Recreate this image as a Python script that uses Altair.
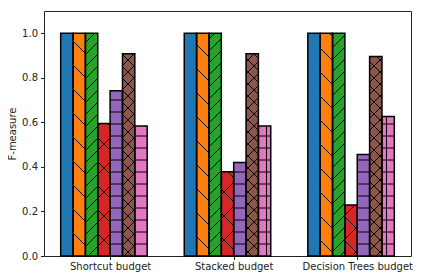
import json
import altair as alt
import pandas as pd
import numpy as np

# ---- data ----
categories = ["Shortcut budget", "Stacked budget", "Decision Trees budget"]
series_1 = [1.0, 1.0, 1.0]
series_2 = [1.0, 1.0, 1.0]
series_3 = [1.0, 1.0, 1.0]
series_4 = [0.595, 0.378, 0.229]
series_5 = [0.742, 0.420, 0.456]
series_6 = [0.908, 0.908, 0.896]
series_7 = [0.584, 0.584, 0.626]
y_ticks = [0.0, 0.2, 0.4, 0.6, 0.8, 1.0]

# ---- styles ----
colors = ["#1f77b4", "#ff7f0e", "#2ca02c", "#d62728", "#9467bd", "#8c564b", "#e377c2"]
hatches = ["", "\\", "//", "x", "-", "xx", "+"]

all_series = [series_1, series_2, series_3, series_4, series_5, series_6, series_7]

W, H = 367, 245
BAR_W = 0.1
X_DOMAIN = [-0.535, 2.435]
Y_DOMAIN = [0.0, 1.1]
sx = W / (X_DOMAIN[1] - X_DOMAIN[0])
sy = H / (Y_DOMAIN[1] - Y_DOMAIN[0])
UNIT = 72.0  # hatch tile size in px (matplotlib, 72 dpi)

rows = []
for s, vals in enumerate(all_series):
    for g, v in enumerate(vals):
        x0 = g - 0.4 + BAR_W * s
        rows.append(dict(series=s, group=g, x0=x0, x1=x0 + BAR_W, y0=0.0, v=v, color=colors[s]))
bars = pd.DataFrame(rows)


def to_data(X, Y):
    return X / sx + X_DOMAIN[0], Y / sy


def hatch_segments(x0, x1, v, pattern):
    X0 = (x0 - X_DOMAIN[0]) * sx
    X1 = (x1 - X_DOMAIN[0]) * sx
    Y1 = v * sy
    segs = []
    n_ne = (pattern.count("/") + pattern.count("x")) * 6
    n_se = (pattern.count("\\") + pattern.count("x")) * 6
    n_h = (pattern.count("-") + pattern.count("+")) * 6
    n_v = (pattern.count("|") + pattern.count("+")) * 6
    if n_ne:
        d = 2 * UNIT / n_ne
        k0 = int(np.floor((0 - X1) / d)) - 1
        k1 = int(np.ceil((Y1 - X0) / d)) + 1
        for k in range(k0, k1 + 1):
            c = k * d + 4.0
            xa = max(X0, -c)
            xb = min(X1, Y1 - c)
            if xb - xa > 0.6:
                segs.append((to_data(xa, xa + c), to_data(xb, xb + c)))
    if n_se:
        d = 2 * UNIT / n_se
        k0 = int(np.floor(X0 / d)) - 1
        k1 = int(np.ceil((Y1 + X1) / d)) + 1
        for k in range(k0, k1 + 1):
            c = k * d + 4.0
            xa = max(X0, c - Y1)
            xb = min(X1, c)
            if xb - xa > 0.6:
                segs.append((to_data(xa, c - xa), to_data(xb, c - xb)))
    if n_h:
        d = UNIT / n_h
        k = 1
        while k * d < Y1 - 1.0:
            segs.append((to_data(X0, k * d), to_data(X1, k * d)))
            k += 1
    if n_v:
        d = UNIT / n_v
        k = 0
        while k * d + 6.5 < X1:
            Xv = k * d + 6.5
            if Xv > X0 + 1.0 and Xv < X1 - 1.0:
                segs.append((to_data(Xv, 0.0), to_data(Xv, Y1)))
            k += 1
    return segs


seg_rows = []
for r in rows:
    for (xa, ya), (xb, yb) in hatch_segments(r["x0"], r["x1"], r["v"], hatches[r["series"]]):
        seg_rows.append(dict(x=xa, y=ya, x2=xb, y2=yb))
segs = pd.DataFrame(seg_rows)

xscale = alt.Scale(domain=X_DOMAIN, nice=False, zero=False)
yscale = alt.Scale(domain=Y_DOMAIN, nice=False, zero=False)

label_expr = json.dumps(categories) + "[datum.value]"

x_axis = alt.Axis(values=[0, 1, 2], labelExpr=label_expr, title=None, grid=False,
                  domain=False, tickSize=3.5, tickColor="#222", labelPadding=2,
                  labelFontSize=10, labelColor="#222", labelFont="DejaVu Sans")
y_axis = alt.Axis(values=y_ticks, format=".1f", title="F-measure", grid=False,
                  domain=False, tickSize=3.5, tickColor="#222", labelPadding=3,
                  labelFontSize=10, labelColor="#222", labelFont="DejaVu Sans",
                  titleFontSize=10, titleFontWeight="normal", titleColor="#222",
                  titleFont="DejaVu Sans", titlePadding=4)

fill_layer = alt.Chart(bars).mark_rect(strokeWidth=0).encode(
    x=alt.X("x0:Q", scale=xscale, axis=x_axis),
    x2="x1:Q",
    y=alt.Y("y0:Q", scale=yscale, axis=y_axis),
    y2="v:Q",
    fill=alt.Fill("color:N", scale=None),
)

hatch_layer = alt.Chart(segs).mark_rule(color="black", strokeWidth=1).encode(
    x=alt.X("x:Q", scale=xscale, axis=x_axis),
    y=alt.Y("y:Q", scale=yscale, axis=y_axis),
    x2="x2:Q",
    y2="y2:Q",
)

edge_layer = alt.Chart(bars).mark_rect(fillOpacity=0, stroke="black", strokeWidth=1.5).encode(
    x=alt.X("x0:Q", scale=xscale, axis=x_axis),
    x2="x1:Q",
    y=alt.Y("y0:Q", scale=yscale, axis=y_axis),
    y2="v:Q",
)

chart = alt.layer(fill_layer, hatch_layer, edge_layer).properties(
    width=W,
    height=H,
    autosize=alt.AutoSizeParams(type="none"),
    padding={"left": 36, "top": 3, "right": 2, "bottom": 20},
).configure(
    font="DejaVu Sans", background="white"
).configure_view(
    stroke="#222", strokeWidth=1, fill="white"
)

chart.save("out.html", embed_options={"renderer": "svg", "actions": False})
